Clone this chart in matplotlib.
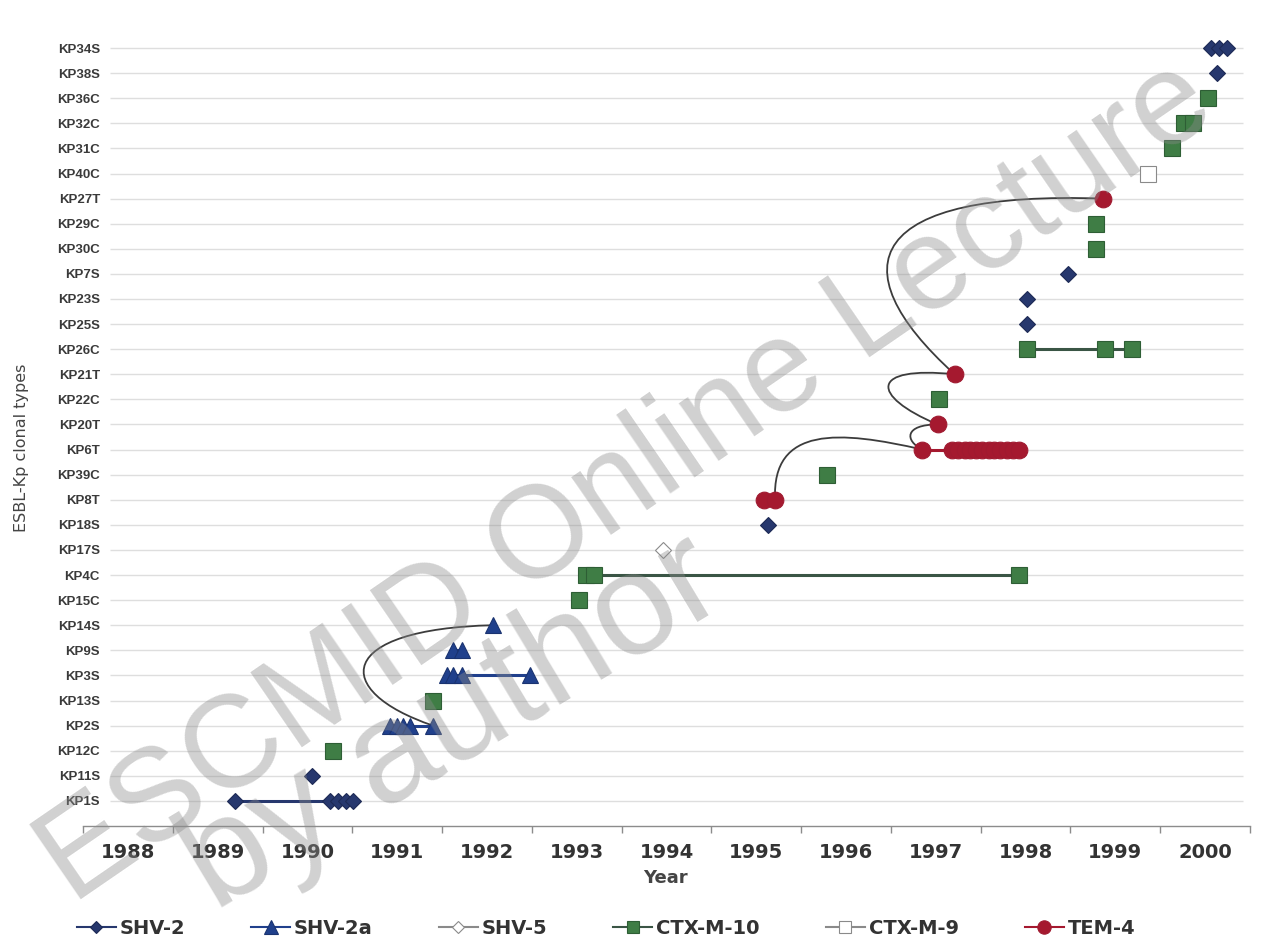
import matplotlib
matplotlib.use("Agg")
import matplotlib.pyplot as plt
from matplotlib.path import Path
from matplotlib.patches import PathPatch
from matplotlib.lines import Line2D

# Clonal types, bottom row first
categories = ["KP1S", "KP11S", "KP12C", "KP2S", "KP13S", "KP3S", "KP9S", "KP14S",
              "KP15C", "KP4C", "KP17S", "KP18S", "KP8T", "KP39C", "KP6T", "KP20T",
              "KP22C", "KP21T", "KP26C", "KP25S", "KP23S", "KP7S", "KP30C", "KP29C",
              "KP27T", "KP40C", "KP31C", "KP32C", "KP36C", "KP38S", "KP34S"]

years = list(range(1988, 2001))

# Isolation dates (decimal years) per clonal type, one dict per ESBL
shv2 = {
    "KP1S": [1989.69, 1990.75, 1990.84, 1990.93, 1991.01],
    "KP11S": [1990.55],
    "KP18S": [1995.63],
    "KP25S": [1998.52],
    "KP23S": [1998.52],
    "KP7S": [1998.97],
    "KP38S": [2000.63],
    "KP34S": [2000.57, 2000.66, 2000.74],
}
shv2a = {
    "KP2S": [1991.42, 1991.50, 1991.56, 1991.64, 1991.90],
    "KP3S": [1992.05, 1992.12, 1992.22, 1992.98],
    "KP9S": [1992.12, 1992.22],
    "KP14S": [1992.57],
}
shv5 = {
    "KP17S": [1994.46],
}
ctxm10 = {
    "KP12C": [1990.78],
    "KP13S": [1991.90],
    "KP15C": [1993.53],
    "KP4C": [1993.60, 1993.69, 1998.43],
    "KP39C": [1996.29],
    "KP22C": [1997.54],
    "KP26C": [1998.52, 1999.38, 1999.68],
    "KP30C": [1999.29],
    "KP29C": [1999.29],
    "KP31C": [2000.13],
    "KP32C": [2000.27, 2000.36],
    "KP36C": [2000.53],
}
ctxm9 = {
    "KP40C": [1999.86],
}
tem4 = {
    "KP8T": [1995.59, 1995.71],
    "KP6T": [1997.35, 1997.68, 1997.75, 1997.82, 1997.88, 1997.95, 1998.02,
             1998.09, 1998.15, 1998.22, 1998.29, 1998.36, 1998.43],
    "KP20T": [1997.52],
    "KP21T": [1997.71],
    "KP27T": [1999.36],
}

# Transfers of a plasmid between clones: (from type, date) -> (to type, date)
transfers = [
    (("KP2S", 1991.90), ("KP14S", 1992.57)),
    (("KP8T", 1995.71), ("KP6T", 1997.35)),
    (("KP6T", 1997.35), ("KP20T", 1997.52)),
    (("KP20T", 1997.52), ("KP21T", 1997.71)),
    (("KP21T", 1997.71), ("KP27T", 1999.36)),
]

legend_labels = ["SHV-2", "SHV-2a", "SHV-5", "CTX-M-10", "CTX-M-9", "TEM-4"]

row = {name: i for i, name in enumerate(categories)}

fig = plt.figure(figsize=(12.72, 9.5), dpi=100)
ax = fig.add_axes([83 / 1272, 1 - 826 / 950, (1250 - 83) / 1272, (826 - 35.5) / 950])
ax.set_xlim(1988, 2001)
ax.set_ylim(-1, len(categories) - 0.5)

# horizontal grid
ax.hlines(range(len(categories)), 1988.3, 2000.92, color="#dedede", lw=1.0, zorder=0)

styles = [
    (shv2, dict(marker="D", ms=8, mfc="#27386e", mec="#1d2a55", color="#27386e")),
    (shv2a, dict(marker="^", ms=12, mfc="#20408c", mec="#1a3370", color="#20408c")),
    (shv5, dict(marker="D", ms=8, mfc="white", mec="#8a8a8a", color="#8a8a8a")),
    (ctxm10, dict(marker="s", ms=11.5, mfc="#3f7d45", mec="#2e5e35", color="#3a5545")),
    (ctxm9, dict(marker="s", ms=11.5, mfc="white", mec="#8a8a8a", color="#8a8a8a")),
    (tem4, dict(marker="o", ms=12, mfc="#a5192f", mec="#a01a30", color="#a5192f")),
]

for data, st in styles:
    for name, xs in data.items():
        ys = [row[name]] * len(xs)
        ax.plot(xs, ys, lw=2.2, mew=0.8, zorder=3, solid_capstyle="round", **st)

# curved transfer connectors (bezier control points in data units)
bends = [
    ((1990.75, 4.39), (1990.81, 6.86)),
    ((1995.67, 14.96), (1996.43, 14.76)),
    ((1997.15, 14.36), (1997.15, 15.00)),
    ((1996.76, 16.15), (1996.76, 17.35)),
    ((1996.37, 21.34), (1996.76, 24.33)),
]
for ((a_name, a_x), (b_name, b_x)), (c1, c2) in zip(transfers, bends):
    verts = [(a_x, row[a_name]), c1, c2, (b_x, row[b_name])]
    path = Path(verts, [Path.MOVETO, Path.CURVE4, Path.CURVE4, Path.CURVE4])
    ax.add_patch(PathPatch(path, fc="none", ec="#3c3c3c", lw=1.3, zorder=2))

# axes styling
for s in ("top", "right", "left"):
    ax.spines[s].set_visible(False)
ax.spines["bottom"].set_color("#8c8c8c")
ax.spines["bottom"].set_linewidth(1.0)

ax.set_xticks(years + [2001])
ax.set_xticklabels([])
ax.tick_params(axis="x", which="major", length=5, color="#8c8c8c", width=1)
ax.set_xticks([y + 0.5 for y in years], minor=True)
ax.set_xticklabels([str(y) for y in years], minor=True,
                   fontsize=14, fontweight="bold", color="#333333", family="DejaVu Sans")
ax.tick_params(axis="x", which="minor", length=0, pad=12)

ax.set_yticks(range(len(categories)))
ax.set_yticklabels(categories, fontsize=9.5, color="#3a3a3a",
                   family=["Liberation Sans Narrow", "Liberation Sans"], fontweight="bold")
ax.tick_params(axis="y", length=0, pad=-12.2)

fig.text(665 / 1272, 1 - 878 / 950, "Year", ha="center", va="center",
         fontsize=13, fontweight="bold", color="#444444", family="DejaVu Sans")
fig.text(22 / 1272, 1 - 448 / 950, "ESBL-Kp clonal types", rotation=90,
         ha="center", va="center", fontsize=11.5, color="#444444", family="DejaVu Sans")

handles = []
for (data, st), lab in zip(styles, legend_labels):
    hs = dict(st)
    hs["ms"] = st["ms"] * 0.8
    handles.append(Line2D([], [], lw=1.5, mew=0.8, label=lab, **hs))
fig.legend(handles=handles, loc="center", bbox_to_anchor=(606 / 1272, 1 - 928 / 950),
           ncol=6, frameon=False, handlelength=2.0, handletextpad=0.2,
           columnspacing=3.4, prop=dict(family="DejaVu Sans", weight="bold", size=14),
           labelcolor="#333333")

# watermark
fig.text(72 / 1272, 1 - 905 / 950, "ESCMID Online Lecture", rotation=34.5,
         rotation_mode="anchor", ha="left", va="baseline", fontsize=94,
         color="#8c8c8c", alpha=0.4, family="Liberation Sans", zorder=10)
fig.text(215 / 1272, 1 - 912 / 950, "by author", rotation=31,
         rotation_mode="anchor", ha="left", va="baseline", fontsize=104,
         color="#8c8c8c", alpha=0.4, family="Liberation Sans", zorder=10)

fig.savefig("out.png", dpi=100, facecolor="white")
